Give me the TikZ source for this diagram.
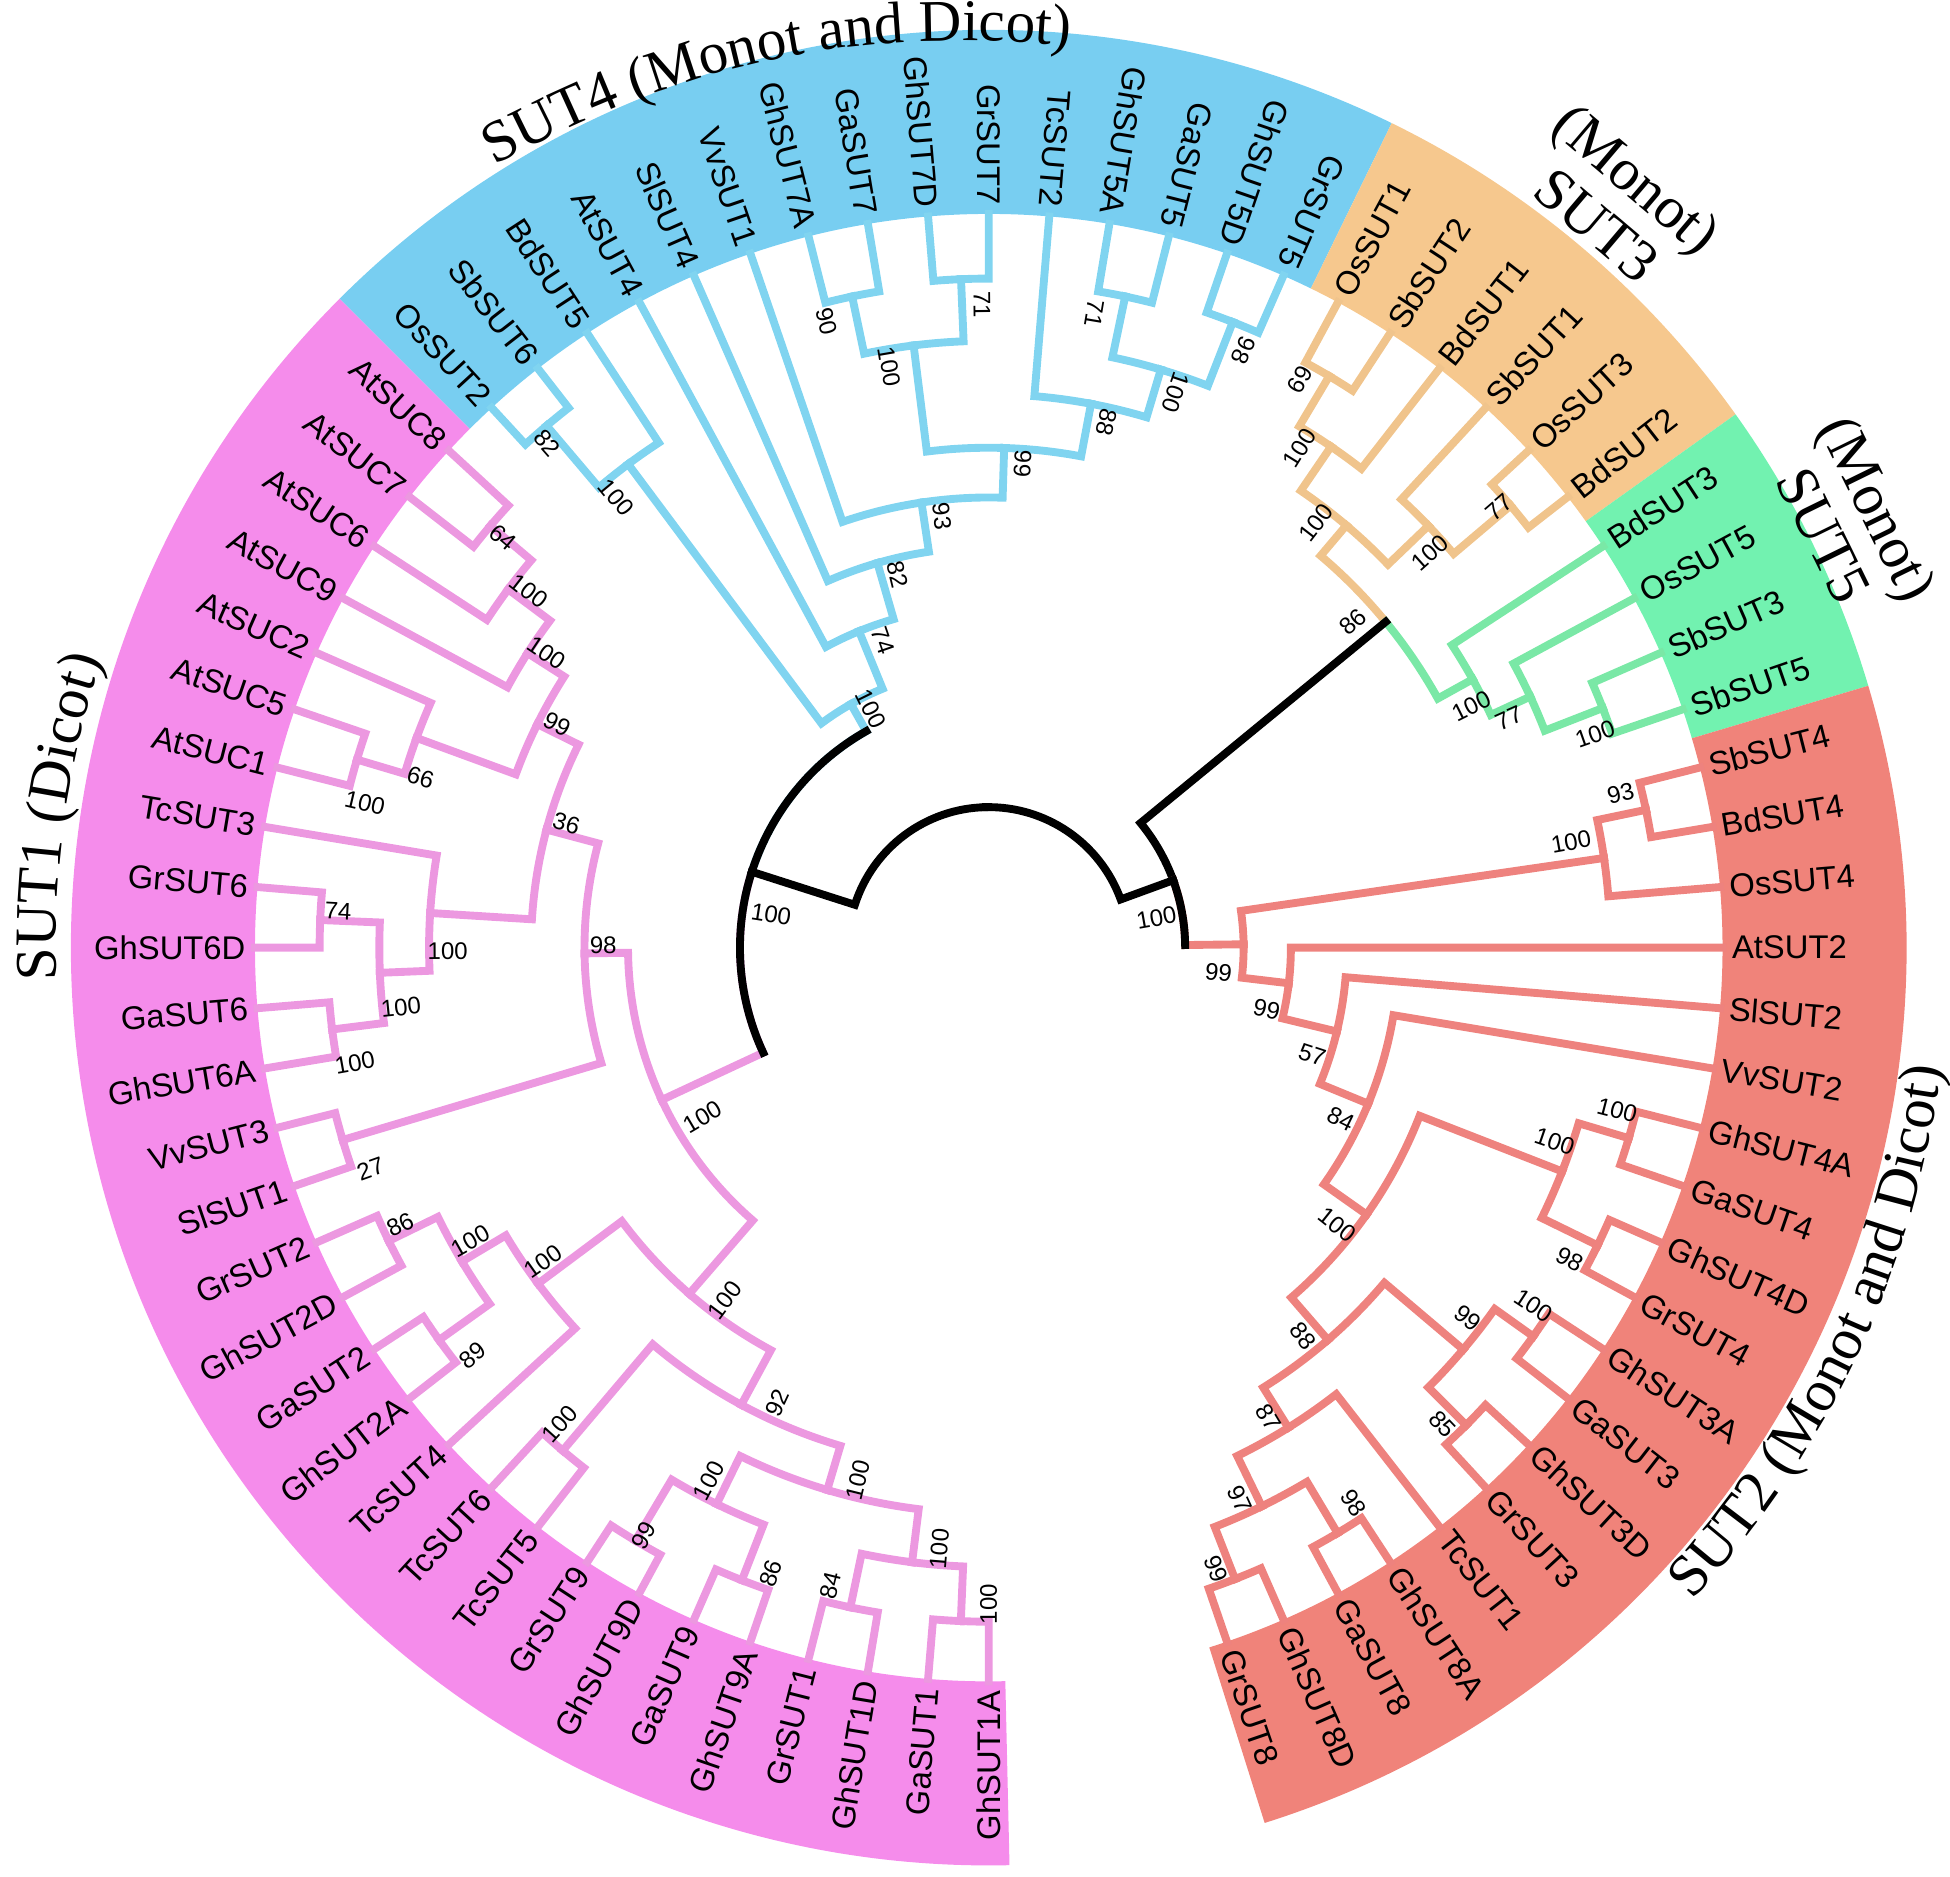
\documentclass[tikz,border=0pt]{standalone}
\usepackage{fontspec}
\setmainfont{Liberation Sans}
\newfontfamily\cladeserif{Liberation Serif}
\usetikzlibrary{decorations.text}

\definecolor{pinkband}{RGB}{245,140,235}
\definecolor{pinkline}{RGB}{236,152,224}
\definecolor{blueband}{RGB}{120,206,241}
\definecolor{blueline}{RGB}{128,212,240}
\definecolor{orangeband}{RGB}{246,200,142}
\definecolor{orangeline}{RGB}{240,196,140}
\definecolor{greenband}{RGB}{114,242,176}
\definecolor{greenline}{RGB}{122,232,166}
\definecolor{redband}{RGB}{240,131,122}
\definecolor{redline}{RGB}{238,130,126}

\tikzset{
  branch/.style={line width=1.8pt, line cap=rect, line join=miter},
  rootln/.style={branch, draw=black},
  leaftext/.style={font=\fontsize{7.5}{9}\selectfont, inner sep=0pt},
  bstext/.style={font=\fontsize{5.5}{6}\selectfont, inner sep=0pt},
  cladetext/.style={font=\cladeserif\fontsize{13.5}{14}\selectfont, inner sep=0pt, align=center},
}

\newcommand\nang[1]{\csname a@#1\endcsname}
\newcommand\ncol[1]{\csname c@#1\endcsname}
\def\curcol{black}

\newcommand\leaf[4]{%
  \pgfmathsetmacro\tipang{270-360/76*#1}%
  \expandafter\xdef\csname a@#2\endcsname{\tipang}%
  \expandafter\xdef\csname c@#2\endcsname{\curcol}%
  \coordinate (#2) at (\tipang:5.9);
  \node[leaftext, anchor=#4, rotate=\tipang+#3] (#2-lab) at (\tipang:5.97) {#2};}

\newcommand\clade[4]{%
  \pgfmathsetmacro\cang{(\nang{#2}+\nang{#3})/2}%
  \expandafter\xdef\csname a@#1\endcsname{\cang}%
  \expandafter\xdef\csname c@#1\endcsname{\curcol}%
  \edef\cola{\ncol{#2}}\edef\colb{\ncol{#3}}%
  \coordinate (#1) at (\cang:#4);
  \draw[branch, draw=\cola] (#1) arc[start angle=\cang, end angle=\nang{#2}, radius=#4] -- (#2);
  \draw[branch, draw=\colb] (#1) arc[start angle=\cang, end angle=\nang{#3}, radius=#4] -- (#3);}

\newcommand\band[3]{\fill[#1] (#2:5.9) arc[start angle=#2, end angle=#3, radius=5.9]
  -- (#3:7.38) arc[start angle=#3, end angle=#2, radius=7.38] -- cycle;}
\newcommand\bsin[4]{\node[bstext, rotate=#2+180] (#1-bs) at (#2:#3) {#4};}
\newcommand\bsout[4]{\node[bstext, rotate=#2] (#1-bs) at (#2:#3) {#4};}

\begin{document}
\begin{tikzpicture}
\useasboundingbox (-7.95,-7.47) rectangle (7.73,7.62);

\band{pinkband}{271.3}{135}
\band{blueband}{135}{63.95}
\band{orangeband}{63.95}{35.53}
\band{greenband}{35.53}{16.58}
\band{redband}{16.58}{-72.5}

\path[decorate, decoration={text along path, text align=center,
  text={|\cladeserif\fontsize{13.5}{14}\selectfont|SUT4 (Monot and Dicot)}}]
  (128:7.5) to[bend left=20] (79:7.3);
\path[decorate, decoration={text along path, text align=center,
  text={|\cladeserif\fontsize{13.5}{14}\selectfont|SUT1 (Dicot)}}]
  (192:7.5) arc[start angle=192, end angle=152, radius=7.5];
\path[decorate, decoration={text along path, text align=center,
  text={|\cladeserif\fontsize{13.5}{14}\selectfont|SUT2 (Monot and Dicot)}}]
  (-51:7.72) arc[start angle=-51, end angle=1, radius=7.72];
\node[cladetext, rotate=-40.3] (sut3) at (49.9:7.85) {(Monot)\\SUT3};
\node[cladetext, rotate=-63.9] (sut5) at (26.3:7.74) {(Monot)\\SUT5};

\def\curcol{pinkline}
\foreach \nm [count=\i from 0] in {GhSUT1A,GaSUT1,GhSUT1D,GrSUT1,GhSUT9A,GaSUT9,GhSUT9D,GrSUT9,
  TcSUT5,TcSUT6,TcSUT4,GhSUT2A,GaSUT2,GhSUT2D,GrSUT2,SlSUT1,VvSUT3,GhSUT6A,GaSUT6,GhSUT6D,
  GrSUT6,TcSUT3,AtSUC1,AtSUC5,AtSUC2,AtSUC9,AtSUC6,AtSUC7,AtSUC8}
  {\leaf{\i}{\nm}{180}{east}}
\def\curcol{blueline}
\foreach \nm [count=\i from 29] in {OsSUT2,SbSUT6,BdSUT5,AtSUT4,SlSUT4,VvSUT1,GhSUT7A,GaSUT7,
  GhSUT7D,GrSUT7,TcSUT2,GhSUT5A,GaSUT5,GhSUT5D,GrSUT5}
  {\leaf{\i}{\nm}{180}{east}}
\def\curcol{orangeline}
\foreach \nm [count=\i from 44] in {OsSUT1,SbSUT2,BdSUT1,SbSUT1,OsSUT3,BdSUT2}
  {\leaf{\i}{\nm}{0}{west}}
\def\curcol{greenline}
\foreach \nm [count=\i from 50] in {BdSUT3,OsSUT5,SbSUT3,SbSUT5}
  {\leaf{\i}{\nm}{0}{west}}
\def\curcol{redline}
\foreach \nm [count=\i from 54] in {SbSUT4,BdSUT4,OsSUT4,AtSUT2,SlSUT2,VvSUT2,GhSUT4A,GaSUT4,
  GhSUT4D,GrSUT4,GhSUT3A,GaSUT3,GhSUT3D,GrSUT3,TcSUT1,GhSUT8A,GaSUT8,GhSUT8D,GrSUT8}
  {\leaf{\i}{\nm}{0}{west}}

\def\curcol{pinkline}
\clade{G1a}{GhSUT1A}{GaSUT1}{5.42}
\clade{G1b}{GhSUT1D}{GrSUT1}{5.42}
\clade{G1}{G1a}{G1b}{4.98}
\clade{G9a}{GhSUT9A}{GaSUT9}{5.46}
\clade{G9b}{GhSUT9D}{GrSUT9}{5.55}
\clade{G9}{G9a}{G9b}{4.98}
\clade{G19}{G1}{G9}{4.55}
\clade{T56}{TcSUT5}{TcSUT6}{5.3}
\clade{P92}{G19}{T56}{4.18}
\clade{G2a}{GhSUT2A}{GaSUT2}{5.43}
\clade{G2b}{GhSUT2D}{GrSUT2}{5.37}
\clade{G2}{G2a}{G2b}{4.93}
\clade{PG2T4}{TcSUT4}{G2}{4.52}
\clade{P100L}{P92}{PG2T4}{3.68}
\clade{P27}{SlSUT1}{VvSUT3}{5.42}
\clade{G6b}{GhSUT6A}{GaSUT6}{5.32}
\clade{G6a}{GhSUT6D}{GrSUT6}{5.38}
\clade{G6}{G6b}{G6a}{4.9}
\clade{P100c}{G6}{TcSUT3}{4.5}
\clade{P100f}{AtSUC1}{AtSUC5}{5.3}
\clade{P66}{P100f}{AtSUC2}{4.9}
\clade{P64}{AtSUC7}{AtSUC8}{5.25}
\clade{P100d}{AtSUC6}{P64}{4.82}
\clade{P100e}{AtSUC9}{P100d}{4.4}
\clade{P99}{P66}{P100e}{4.05}
\clade{P36}{P100c}{P99}{3.68}
\clade{P98}{P27}{P36}{3.25}
\clade{Proot}{P100L}{P98}{2.9}

\def\curcol{blueline}
\clade{Bm82}{OsSUT2}{SbSUT6}{5.5}
\clade{Bm100}{Bm82}{BdSUT5}{4.85}
\clade{G7a}{GhSUT7A}{GaSUT7}{5.35}
\clade{G7b}{GhSUT7D}{GrSUT7}{5.38}
\clade{G7}{G7a}{G7b}{4.88}
\clade{G5c}{GhSUT5A}{GaSUT5}{5.35}
\clade{G5d}{GhSUT5D}{GrSUT5}{5.4}
\clade{G5b}{G5c}{G5d}{4.85}
\clade{G5}{TcSUT2}{G5b}{4.45}
\clade{D99}{G7}{G5}{4.02}
\clade{D93}{VvSUT1}{D99}{3.62}
\clade{D82}{SlSUT4}{D93}{3.22}
\clade{D74}{AtSUT4}{D82}{2.75}
\clade{Broot}{Bm100}{D74}{2.25}

\def\curcol{orangeline}
\clade{O69}{OsSUT1}{SbSUT2}{5.35}
\clade{O100a}{O69}{BdSUT1}{4.88}
\clade{O77}{OsSUT3}{BdSUT2}{5.5}
\clade{O100b}{SbSUT1}{O77}{4.9}
\clade{Oroot}{O100a}{O100b}{4.45}

\def\curcol{greenline}
\clade{Gr100b}{SbSUT3}{SbSUT5}{5.3}
\clade{Gr77}{OsSUT5}{Gr100b}{4.8}
\clade{Groot}{BdSUT3}{Gr77}{4.45}

\def\curcol{redline}
\clade{Rm93}{SbSUT4}{BdSUT4}{5.4}
\clade{Rm100}{Rm93}{OsSUT4}{5.0}
\clade{G4a}{GhSUT4A}{GaSUT4}{5.37}
\clade{G4b}{GhSUT4D}{GrSUT4}{5.45}
\clade{G4}{G4a}{G4b}{4.95}
\clade{G3a}{GhSUT3A}{GaSUT3}{5.38}
\clade{G3b}{GhSUT3D}{GrSUT3}{5.43}
\clade{G3}{G3a}{G3b}{5.0}
\clade{R98}{GhSUT8A}{GaSUT8}{5.48}
\clade{R8}{GhSUT8D}{GrSUT8}{5.45}
\clade{R7}{R98}{R8}{5.0}
\clade{R6}{TcSUT1}{R7}{4.55}
\clade{R5}{G3}{R6}{4.17}
\clade{R4}{G4}{R5}{3.72}
\clade{R3}{VvSUT2}{R4}{3.3}
\clade{R2}{SlSUT2}{R3}{2.88}
\clade{R1}{AtSUT2}{R2}{2.43}
\clade{R0}{Rm100}{R1}{2.05}

\def\curcol{black}
\clade{OG}{Oroot}{Groot}{4.13}
\clade{B}{OG}{R0}{1.58}
\clade{A}{Broot}{Proot}{2.0}
\clade{root}{A}{B}{1.13}
\draw[rootln] (A) arc[start angle=\nang{A}, end angle=\nang{Broot}, radius=2.0];
\draw[rootln] (A) arc[start angle=\nang{A}, end angle=\nang{Proot}, radius=2.0];
\draw[rootln] (B) arc[start angle=\nang{B}, end angle=\nang{R0}, radius=1.58];

\bsin{G1a}{270}{5.28}{100}
\bsin{G1b}{256.1}{5.28}{84}
\bsin{G1}{265.3}{4.85}{100}
\bsin{G9a}{250.8}{5.33}{86}
\bsin{G9b}{239.6}{5.48}{99}
\bsin{G9}{242.3}{4.84}{100}
\bsin{G19}{256.2}{4.41}{100}
\bsin{T56}{228.0}{5.15}{100}
\bsin{P92}{245.1}{4.04}{92}
\bsin{G2a}{218.3}{5.29}{89}
\bsin{G2b}{205.2}{5.23}{86}
\bsin{G2}{209.5}{4.79}{100}
\bsin{PG2T4}{215.2}{4.38}{100}
\bsin{P100L}{233.2}{3.54}{100}
\bsin{P27}{199.7}{5.28}{27}
\bsin{G6b}{190.3}{5.18}{100}
\bsin{G6a}{176.8}{5.24}{74}
\bsin{G6}{185.8}{4.75}{100}
\bsin{P100c}{180.4}{4.35}{100}
\bsin{P100f}{166.9}{5.15}{100}
\bsin{P66}{163.3}{4.77}{66}
\bsin{P64}{139.8}{5.11}{64}
\bsin{P100d}{142.2}{4.68}{100}
\bsin{P100e}{146.3}{4.27}{100}
\bsin{P99}{152.6}{3.91}{99}
\bsin{P36}{163.6}{3.54}{36}
\bsin{P98}{179.6}{3.10}{98}
\bsin{Proot}{210.6}{2.67}{100}

\bsin{Broot}{116.3}{2.14}{100}
\bsin{Bm100}{129.6}{4.70}{100}
\bsin{Bm82}{131.2}{5.39}{82}
\bsin{D74}{109.0}{2.61}{74}
\bsin{D82}{103.7}{3.09}{82}
\bsin{D93}{96.2}{3.49}{93}
\bsin{D99}{86.0}{3.90}{99}
\bsin{G7}{99.7}{4.74}{100}
\bsin{G7a}{104.5}{5.20}{90}
\bsin{G7b}{90.6}{5.17}{71}
\bsin{G5}{77.3}{4.33}{88}
\bsin{G5b}{71.4}{4.71}{100}
\bsin{G5c}{80.5}{5.17}{71}
\bsin{G5d}{66.9}{5.22}{98}

\bsout{OG}{41.8}{3.93}{86}
\bsout{Oroot}{52.4}{4.31}{100}
\bsout{O100a}{58.1}{4.73}{100}
\bsout{O69}{61.3}{5.21}{69}
\bsout{O100b}{41.8}{4.76}{100}
\bsout{O77}{40.8}{5.42}{77}
\bsout{Groot}{26.6}{4.34}{100}
\bsout{Gr77}{23.8}{4.57}{77}
\bsout{Gr100b}{19.4}{5.17}{100}

\bsout{R0}{-6.2}{1.86}{99}
\bsout{R1}{-12.6}{2.29}{99}
\bsout{R2}{-18.3}{2.74}{57}
\bsout{R3}{-26.0}{3.15}{84}
\bsout{R4}{-38.5}{3.58}{100}
\bsout{Rm100}{10.3}{4.76}{100}
\bsout{Rm93}{13.7}{5.23}{93}
\bsout{G4}{-18.9}{4.81}{100}
\bsout{G4a}{-14.5}{5.22}{100}
\bsout{G4b}{-28.2}{5.30}{98}
\bsout{R5}{-51.0}{4.02}{88}
\bsout{G3}{-37.7}{4.87}{99}
\bsout{G3a}{-33.3}{5.24}{100}
\bsout{G3b}{-46.4}{5.29}{85}
\bsout{R6}{-59.2}{4.40}{87}
\bsout{R7}{-65.5}{4.87}{97}
\bsout{R8}{-69.9}{5.32}{99}
\bsout{R98}{-56.7}{5.34}{98}

\bsin{A}{171.2}{1.77}{100}
\bsout{B}{10.1}{1.37}{100}
\end{tikzpicture}
\end{document}
